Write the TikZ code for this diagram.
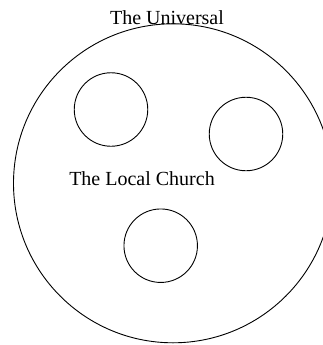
\documentclass[tikz,border=0pt]{standalone}
\usepackage{fontspec}
\setmainfont{Liberation Serif}
\usetikzlibrary{positioning}

\begin{document}
\begin{tikzpicture}[
  x=1pt,y=-1pt,
  ring/.style={circle,draw=black,line width=0.9pt,inner sep=0pt},
  church/.style={ring,minimum size=73.5pt},
  label/.style={anchor=base,inner sep=0pt,font=\fontsize{20}{24}\selectfont}
]
\useasboundingbox (0,0) rectangle (322,345);
\node[ring,minimum size=319pt] (universal) at (173,183.3) {};
\node[church] (church1) at (111,109.5) {};
\node[church] (church2) at (246,134) {};
\node[church] (church3) at (160.7,245.7) {};
\node[label] (title) at (167,25) {The Universal};
\node[label] (local) at (142,185) {The Local Church};
\end{tikzpicture}
\end{document}
